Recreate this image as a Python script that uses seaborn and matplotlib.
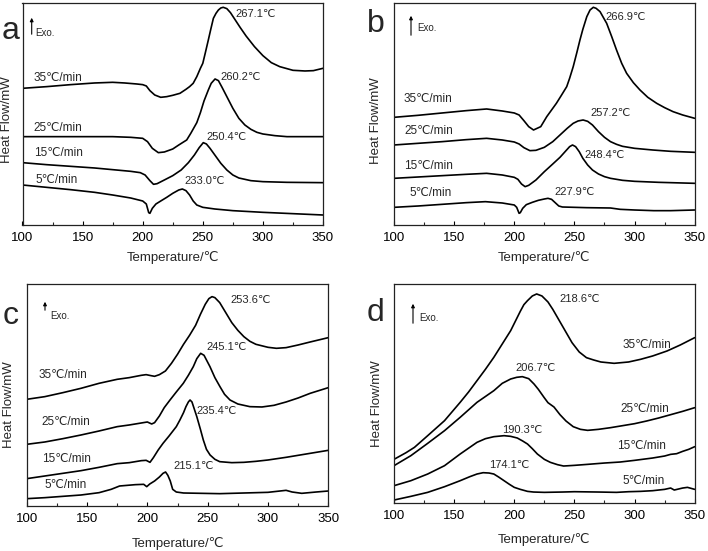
import matplotlib
matplotlib.use("Agg")
import matplotlib.pyplot as plt
import seaborn as sns
import pandas as pd

# ---------------- data (heat flow in arbitrary units) ----------------
rates = ["35℃/min", "25℃/min", "15℃/min", "5℃/min"]
xticks = [100, 150, 200, 250, 300, 350]

# panel a
a35_T = [100,120,140,160,175,185,195,200,203,206,210,215,220,225,231,236,239,242,245,248,250,252,254.6,256.5,258.8,261,263,265,267,270,273,277,281,286,293,300,307,314,325,335,342,350]
a35_hf = [410,415,421,426,428,426,423,421,417,403,390,383,385,389,395,407,415,425,445,470,485,515,555,585,620,635,645,651,653,649,637,615,593,567,535,508,487,475,464,462,463,470]
a25_T = [100,120,140,160,175,190,200,204,208,213,218,225,230,236.6,240,245,248,251,254.6,257,260.2,263,266,270,275,280,285,290,295,300,310,320,350]
a25_hf = [265,265,265,265,265,263,260,250,230,217,219,228,240,255,275,307,337,372,405,425,438,433,413,385,350,320,300,287,278,273,268,265,265]
a15_T = [100,120,140,160,178,190,198,202,206,209,212,218,225,232,238,243,247,250.4,253,256,260,265,270,275,280,290,300,320,350]
a15_hf = [187,181,176,171,165,161,157,150,133,122,124,135,148,165,187,210,232,247,243,230,210,185,165,150,141,133,130,128,127]
a5_T = [100,120,140,160,175,190,200,203,205,206,208,211,215,220,225,230,233,236,239,242,245,250,260,275,300,325,350]
a5_hf = [120,113,106,98,90,81,72,63,37,35,50,63,72,83,95,105,108,103,90,72,60,53,48,43,38,34,30]
a_peaks = ["267.1℃", "260.2℃", "250.4℃", "233.0℃"]

# panel b
b35_T = [100,120,140,160,177,190,200,204,208,212,216,222,227,231,235,239,243.6,246,249,252,254.6,257,260.3,263,265.7,268,271.3,276.8,281,285,289.3,293.4,299,304.5,311,318.4,325,332,340,350]
b35_hf = [323,329,336,343,348,342,336,330,313,295,285,295,325,345,365,388,415,440,475,517,555,587,625,645,653,650,640,605,565,525,485,455,427,405,383,365,352,340,330,320]
b25_T = [100,120,140,160,177,190,200,204,208,213,218,225,232,238,244,249,253,257.2,261,265,270,275,280,285,290,300,315,330,350]
b25_hf = [240,245,250,256,260,255,249,243,232,223,224,233,250,270,290,305,312,315,311,300,280,263,250,242,236,230,225,221,218]
b15_T = [100,120,140,160,177,190,200,203,206,209,212,218,225,232,238,243,246,248.4,251,254,257,261,265,270,275,280,290,300,320,350]
b15_hf = [140,144,148,152,155,150,143,137,123,115,119,135,160,183,203,223,235,240,235,220,200,180,165,153,145,140,134,131,128,125]
b5_T = [100,120,140,160,176,190,200,202,204,205,207,210,215,220,225,228,231,234,237,240,260,280,288,300,316,330,350]
b5_hf = [53,57,62,67,70,66,60,53,35,37,50,61,68,74,78,80,77,67,57,54,52,51,47,45,43,43,45]
b_peaks = ["266.9℃", "257.2℃", "248.4℃", "227.9℃"]

# panel c
c35_T = [100,115,130,145,160,175,185,195,199,203,206,210,215,220,225,230,235,240,244,248,251,253.6,256,260,265,270,275,280,285,290,300,307,315,325,335,350]
c35_hf = [320,328,340,353,368,380,385,392,394,391,389,394,405,428,455,485,512,542,575,605,622,628,625,610,580,550,527,508,494,485,476,473,475,483,492,505]
c25_T = [100,115,130,145,160,175,185,195,200,203.6,206,210,214,218.8,224,229.8,234,238.1,241,244.2,247,251.9,256,260.2,264,268.5,275,285,295,305,315,325,335,350]
c25_hf = [185,192,202,213,225,238,243,249,252,246,250,270,295,318,342,368,392,418,442,458,452,418,385,358,335,318,306,298,297,302,312,324,338,355]
c15_T = [100,115,130,145,160,175,185,195,199,202.2,205,209,213,218,224,227,230,232,234,235.4,237,239,241,244,246.4,249,252,256,260,270,280,290,300,315,330,350]
c15_hf = [82,90,98,106,116,127,130,136,137,131,145,168,188,210,238,258,280,298,312,318,312,290,268,230,198,170,153,140,133,130,131,134,138,146,155,167]
c5_T = [100,115,130,145,160,170,177,190,197,199.5,202,206,210,213,215.1,217,219,221,224,230,245,260,280,300,310,315,320,328,340,350]
c5_hf = [22,25,29,33,40,50,60,64,65,58,66,75,87,98,102,92,75,50,42,39,38,37,39,41,45,47,42,38,42,45]
c_peaks = ["253.6℃", "245.1℃", "235.4℃", "215.1℃"]

# panel d
d35_T = [100,110,117,128,142,155,162,169,176,183,190,197,201,205,208,211,215,218.6,223,228,232,236,240,244,248,254,260,266,272,283,295,305,315,327,338,350]
d35_hf = [130,150,166,201,246,301,332,366,400,436,476,516,545,574,594,606,620,626,620,602,580,555,530,505,480,452,435,428,422,418,422,430,440,455,473,495]
d25_T = [100,114,128,142,155,169,183,190,197,202,206.7,212,216.4,220,224.7,228,233,238,243,249,255,261,270,280,290,300,310,320,330,340,350]
d25_hf = [111,141,178,216,256,301,336,358,371,376,378,372,356,340,316,300,287,264,245,228,220,217,220,225,231,237,245,254,264,274,285]
d15_T = [100,114,128,142,155,169,176,183,191.5,197,202.5,207,211,215,219.2,225,230,236,241,250,261,275,288,300,315,325,330,335,340,345,350]
d15_hf = [51,66,86,111,146,181,192,198,201,199,194,185,176,162,146,130,121,114,110,112,115,119,122,127,134,140,145,147,154,160,168]
d5_T = [100,114,128,142,155,163,169,174.1,179,183,187,191.5,196,200,205,211,216,225,240,250,270,285,295,305,315,325,330,333,340,344,350]
d5_hf = [8,19,31,48,66,78,86,90,89,86,77,66,55,46,40,34,32,31,32,33,32,31,33,34,36,40,44,38,44,46,40]
d_peaks = ["218.6℃", "206.7℃", "190.3℃", "174.1℃"]

# ---------------- layout / style ----------------
sns.set_theme(style="ticks")
plt.rcParams["font.family"] = ["Liberation Sans", "DejaVu Sans"]
plt.rcParams["axes.linewidth"] = 0.9

W, H = 708, 551
fig = plt.figure(figsize=(W / 100, H / 100), dpi=100)

panels = {
    "a": dict(curves=[(a35_T, a35_hf), (a25_T, a25_hf), (a15_T, a15_hf), (a5_T, a5_hf)],
              peaks=a_peaks, box=(22.5, 3.3, 323, 225), ylim=665,
              peak_pos=[(277, 633), (264.5, 443), (252.8, 265), (234.6, 132)],
              rate_pos=[(109.4, 440), (109.4, 292), (109.4, 215), (110.8, 135)],
              letter=(2, 39), arrow=(31.7, 37, 15), exo=(35, 33), ylab=(7, 120), xlab=258),
    "b": dict(curves=[(b35_T, b35_hf), (b25_T, b25_hf), (b15_T, b15_hf), (b5_T, b5_hf)],
              peaks=b_peaks, box=(394, 3.3, 694.7, 225), ylim=665,
              peak_pos=[(276, 623), (263.5, 335), (258, 210), (233, 100)],
              rate_pos=[(108.3, 377), (108.3, 282), (108.3, 178), (112.5, 95)],
              letter=(367, 32), arrow=(411, 38, 13), exo=(417, 28), ylab=(376, 121), xlab=257),
    "c": dict(curves=[(c35_T, c35_hf), (c25_T, c25_hf), (c15_T, c15_hf), (c5_T, c5_hf)],
              peaks=c_peaks, box=(26.7, 284.3, 328.3, 506), ylim=665,
              peak_pos=[(268.5, 617), (249, 478), (241, 285), (221.5, 120)],
              rate_pos=[(109.7, 392), (112.4, 253), (112.4, 142), (115, 63)],
              letter=(3, 324), arrow=(45, 313, 299), exo=(50, 316), ylab=(9, 405), xlab=543),
    "d": dict(curves=[(d35_T, d35_hf), (d25_T, d25_hf), (d15_T, d15_hf), (d5_T, d5_hf)],
              peaks=d_peaks, box=(394, 284.3, 694.7, 502.7), ylim=655,
              peak_pos=[(237.2, 610), (201.2, 405), (190, 218), (179, 112)],
              rate_pos=[(289.8, 472), (288.4, 280), (285.7, 170), (290, 65)],
              letter=(367, 321), arrow=(413, 326, 301), exo=(419, 318), ylab=(376.5, 404), xlab=539),
}

def fx(px):
    return px / W

def fy(py):
    return 1 - py / H

for key, p in panels.items():
    l, t, r, b = p["box"]
    ax = fig.add_axes([fx(l), fy(b), (r - l) / W, (b - t) / H])
    for (T, hf), rate in zip(p["curves"], rates):
        df = pd.DataFrame({"Temperature": T, "HeatFlow": hf})
        sns.lineplot(data=df, x="Temperature", y="HeatFlow", ax=ax, color="black",
                     linewidth=1.2, estimator=None, sort=False)
    ax.set_xlim(100, 350)
    ax.set_ylim(0, p["ylim"])
    ax.set_xticks(xticks)
    ax.set_xticks([125, 175, 225, 275, 325], minor=True)
    ax.set_yticks([])
    ax.tick_params(axis="x", which="major", direction="in", length=3, width=0.8,
                   labelsize=9.5, pad=5, colors="black")
    ax.tick_params(axis="x", which="minor", direction="in", length=2, width=0.8)
    for s in ax.spines.values():
        s.set_visible(True)
        s.set_color("#222222")
    ax.set_xlabel("Temperature/℃", fontsize=9.5, va="center")
    ax.xaxis.set_label_coords(0.5, (b - p["xlab"]) / (b - t))
    ax.set_ylabel("Heat Flow/mW", fontsize=9.5, va="center")
    yx, yy = p["ylab"]
    ax.yaxis.set_label_coords((yx - l) / (r - l), (b - yy) / (b - t))
    for txt, (x, y) in zip(p["peaks"], p["peak_pos"]):
        ax.text(x, y, txt, fontsize=8, ha="left", va="center")
    for txt, (x, y) in zip(rates, p["rate_pos"]):
        ax.text(x, y, txt, fontsize=8.5, ha="left", va="center")
    # panel letter
    lx, ly = p["letter"]
    fig.text(fx(lx), fy(ly), key, fontsize=23, ha="left", va="baseline")
    # exo arrow
    axx, ytail, yhead = p["arrow"]
    fig.add_artist(matplotlib.patches.FancyArrowPatch(
        (fx(axx), fy(ytail)), (fx(axx), fy(yhead)), transform=fig.transFigure,
        arrowstyle="-|>", mutation_scale=5, lw=0.8, color="black"))
    ex, ey = p["exo"]
    fig.text(fx(ex), fy(ey), "Exo.", fontsize=7, ha="left", va="center")

fig.savefig("out.png", dpi=100)
